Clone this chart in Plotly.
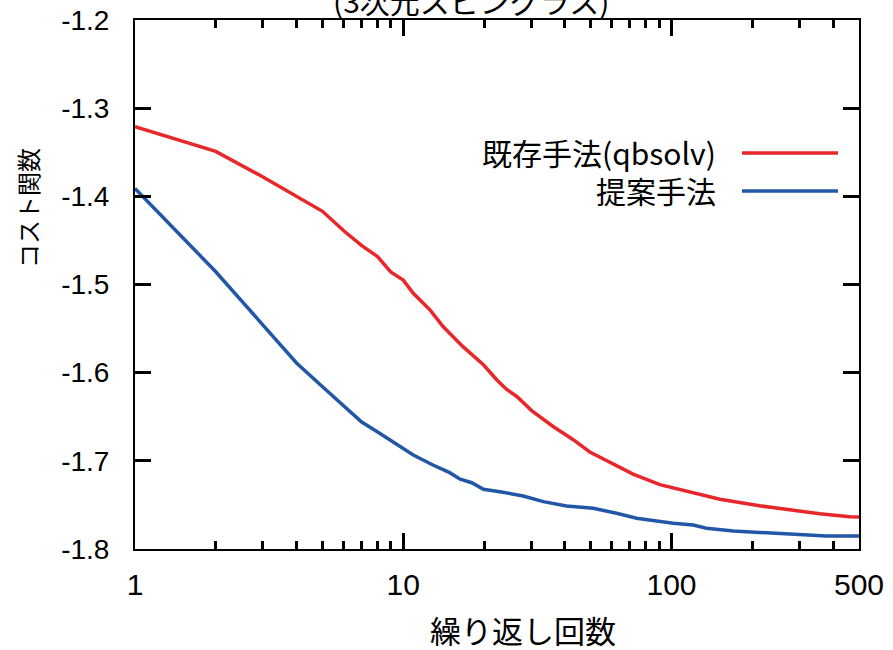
import plotly.graph_objects as go

# ---- data ----
iters_existing = [1, 2, 3, 4, 5, 6, 7, 8, 9, 10, 10.9, 12.6, 14.1, 16.7, 19.9, 22.3, 24.3, 26.5,
                  30.1, 36.2, 43.0, 49.6, 60.7, 71.9, 90.5, 117, 151.5, 213, 284, 357, 462, 500]
cost_existing = [-1.321, -1.349, -1.378, -1.400, -1.417, -1.439, -1.456, -1.468, -1.486, -1.495,
                 -1.510, -1.529, -1.548, -1.5705, -1.591, -1.608, -1.619, -1.627, -1.643, -1.661,
                 -1.676, -1.690, -1.703, -1.715, -1.727, -1.735, -1.7436, -1.751, -1.7565,
                 -1.760, -1.7633, -1.7637]

iters_proposed = [1, 2, 3, 4, 5, 6, 7, 8, 9, 10, 10.9, 12.9, 14.9, 16.3, 18.0, 19.9, 22.9, 28.0,
                  33.3, 40.6, 51.1, 62.4, 74.1, 88, 101.5, 120.5, 135, 170, 226, 300, 378, 462, 500]
cost_proposed = [-1.391, -1.4855, -1.546, -1.589, -1.616, -1.637, -1.656, -1.667, -1.677, -1.686,
                 -1.6934, -1.7047, -1.7134, -1.7209, -1.7248, -1.7323, -1.735, -1.7399, -1.7463,
                 -1.7512, -1.7538, -1.7595, -1.7652, -1.7682, -1.7709, -1.7728, -1.7765, -1.7796,
                 -1.7815, -1.7833, -1.7852, -1.7852, -1.7852]

x_tick_vals = [1, 10, 100, 500]
x_tick_text = ["1", "10", "100", "500"]
x_minor_vals = [2, 3, 4, 5, 6, 7, 8, 9, 20, 30, 40, 50, 60, 70, 80, 90, 200, 300, 400]
y_tick_vals = [-1.8, -1.7, -1.6, -1.5, -1.4, -1.3, -1.2]
y_tick_text = ["-1.8", "-1.7", "-1.6", "-1.5", "-1.4", "-1.3", "-1.2"]

series_names = ["既存手法(qbsolv)", "提案手法"]
colors = ["#e8272b", "#2157a6"]

title_text = "(3次元スピングラス)"
x_title = "繰り返し回数"
y_title = "コスト関数"

FONT = "Liberation Sans, Arial, Noto Sans CJK JP, sans-serif"
JFONT = "Noto Sans CJK JP, sans-serif"

W, H = 893, 650
L, R, T, B = 135, 34, 20, 101
PW, PH = W - L - R, H - T - B

def px_x(x):
    return (x - L) / PW

def px_y(y):
    return (H - B - y) / PH

fig = go.Figure()
fig.add_trace(go.Scatter(x=iters_existing, y=cost_existing, mode="lines",
                         line=dict(color=colors[0], width=3.5), name=series_names[0],
                         showlegend=False))
fig.add_trace(go.Scatter(x=iters_proposed, y=cost_proposed, mode="lines",
                         line=dict(color=colors[1], width=3.5), name=series_names[1],
                         showlegend=False))

axis_common = dict(showline=True, linecolor="black", linewidth=2, mirror="allticks",
                   ticks="inside", ticklen=16, tickwidth=2.5, tickcolor="black",
                   showgrid=False, zeroline=False, automargin=False)

fig.update_xaxes(type="log", range=[0, 2.69897], tickmode="array",
                 tickvals=x_tick_vals, ticktext=x_tick_text,
                 tickfont=dict(family=FONT, size=30, color="black"),
                 minor=dict(tickmode="array", tickvals=x_minor_vals, ticks="inside",
                            ticklen=8, tickwidth=2.5, tickcolor="black", showgrid=False),
                 ticklabelstandoff=8, **axis_common)
fig.update_yaxes(range=[-1.8, -1.2], tickmode="array", tickvals=y_tick_vals,
                 ticktext=y_tick_text, tickfont=dict(family=FONT, size=28, color="black"),
                 ticklabelstandoff=18, **axis_common)

annotations = [
    dict(text=title_text, x=px_x(471), y=px_y(0), xref="paper", yref="paper",
         xanchor="center", yanchor="middle", showarrow=False,
         font=dict(family=JFONT, size=30, color="black")),
    dict(text=x_title, x=px_x(523), y=px_y(629), xref="paper", yref="paper",
         xanchor="center", yanchor="middle", showarrow=False,
         font=dict(family=JFONT, size=31, color="black")),
    dict(text=y_title, x=px_x(28), y=px_y(208), xref="paper", yref="paper",
         xanchor="center", yanchor="middle", showarrow=False, textangle=-90,
         font=dict(family=JFONT, size=24, color="black")),
    dict(text=series_names[0], x=px_x(718), y=px_y(152), xref="paper", yref="paper",
         xanchor="right", yanchor="middle", showarrow=False,
         font=dict(family=JFONT, size=30, color="black")),
    dict(text=series_names[1], x=px_x(718), y=px_y(190), xref="paper", yref="paper",
         xanchor="right", yanchor="middle", showarrow=False,
         font=dict(family=JFONT, size=30, color="black")),
]

shapes = [
    dict(type="line", xref="paper", yref="paper", x0=px_x(742), x1=px_x(838),
         y0=px_y(153), y1=px_y(153), line=dict(color=colors[0], width=3.5)),
    dict(type="line", xref="paper", yref="paper", x0=px_x(742), x1=px_x(838),
         y0=px_y(191), y1=px_y(191), line=dict(color=colors[1], width=3.5)),
]

fig.update_layout(width=W, height=H, margin=dict(l=L, r=R, t=T, b=B, autoexpand=False),
                  plot_bgcolor="white", paper_bgcolor="white",
                  annotations=annotations, shapes=shapes, showlegend=False)

fig.write_html("out.html", config={"displayModeBar": False},
               post_script="document.body.style.margin='0';document.body.style.overflow='hidden';")
